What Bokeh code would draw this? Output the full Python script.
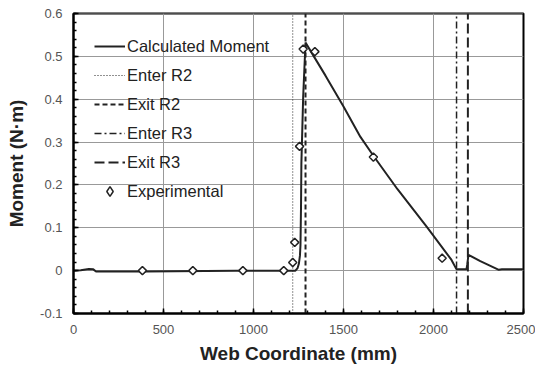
import math
from bokeh.plotting import figure
from bokeh.models import Range1d, Legend, LegendItem, FixedTicker
from bokeh.embed import file_html
from bokeh.resources import INLINE

# Calculated moment curve (web coordinate mm, moment N·m)
calc_x = [0, 40, 85, 110, 125, 400, 900, 1233, 1245, 1252, 1258, 1261, 1264, 1266, 1276, 1289,
          1400, 1500, 1594, 1668, 1800, 1965, 2100, 2128, 2183, 2188, 2194, 2260, 2363, 2380, 2500]
calc_y = [0.0, 0.001, 0.004, 0.003, -0.002, -0.002, 0.0, 0.0, 0.006, 0.016, 0.035, 0.06, 0.15, 0.25, 0.406, 0.532,
          0.455, 0.383, 0.312, 0.267, 0.19, 0.101, 0.025, 0.003, 0.003, 0.015, 0.037, 0.022, 0.002, 0.003, 0.003]

# Experimental points
exp_x = [383, 663, 941, 1168, 1218, 1229, 1256, 1276, 1341, 1666, 2048]
exp_y = [0.0, 0.0, 0.0, 0.0, 0.019, 0.066, 0.29, 0.517, 0.511, 0.265, 0.029]

# Roller region boundaries
enter_r2 = 1218
exit_r2 = 1289
enter_r3 = 2128
exit_r3 = 2191

x_ticks = [0, 500, 1000, 1500, 2000, 2500]
y_ticks = [-0.1, 0.0, 0.1, 0.2, 0.3, 0.4, 0.5, 0.6]
y_labels = ["-0.1", "0", "0.1", "0.2", "0.3", "0.4", "0.5", "0.6"]

FONT = "Liberation Sans"
INK = "#222222"

p = figure(width=535, height=375, output_backend="svg", toolbar_location=None,
           x_range=Range1d(x_ticks[0], x_ticks[-1]), y_range=Range1d(y_ticks[0] - 1e-9, y_ticks[-1] + 1e-9),
           min_border_left=73, min_border_right=12, min_border_top=13, min_border_bottom=62)

p.outline_line_color = "black"
p.outline_line_width = 2
p.background_fill_color = "white"

x_minor = [x_ticks[0] + i * (x_ticks[1] - x_ticks[0]) / 5 for i in range(5 * (len(x_ticks) - 1) + 1)]
y_minor = [round(y_ticks[0] + i * 0.02, 4) for i in range(5 * (len(y_ticks) - 1) + 1)]
p.xaxis.ticker = FixedTicker(ticks=x_ticks, minor_ticks=x_minor)
p.yaxis.ticker = FixedTicker(ticks=y_ticks, minor_ticks=y_minor)
p.yaxis.major_label_overrides = {v: s for v, s in zip(y_ticks, y_labels)}

for ax in (p.xaxis, p.yaxis):
    ax.axis_line_color = "black"
    ax.axis_line_width = 2
    ax.major_tick_in = 5
    ax.major_tick_out = 0
    ax.minor_tick_in = 3
    ax.minor_tick_out = 0
    ax.major_tick_line_color = "black"
    ax.minor_tick_line_color = "black"
    ax.major_tick_line_width = 1.5
    ax.minor_tick_line_width = 1.5
    ax.major_label_text_font = FONT
    ax.major_label_text_font_size = "13px"
    ax.major_label_text_color = "#555555"
    ax.major_label_standoff = 11
    ax.axis_label_text_font = FONT
    ax.axis_label_text_font_size = "19px"
    ax.axis_label_text_font_style = "bold"
    ax.axis_label_text_color = INK

p.xaxis.axis_label = "Web Coordinate (mm)"
p.yaxis.axis_label = "Moment (N·m)"
p.xaxis.axis_label_standoff = 6
p.yaxis.axis_label_standoff = 10

p.xgrid.grid_line_color = "#999999"
p.ygrid.grid_line_color = "#999999"
p.xgrid.grid_line_width = 1
p.ygrid.grid_line_width = 1

yb = [y_ticks[0], y_ticks[-1]]
r_calc = p.line(calc_x, calc_y, line_color=INK, line_width=2)
r_e2 = p.line([enter_r2, enter_r2], yb, line_color=INK, line_width=1, line_dash="1 2")
r_x2 = p.line([exit_r2, exit_r2], yb, line_color=INK, line_width=2, line_dash="5 3")
r_e3 = p.line([enter_r3, enter_r3], yb, line_color=INK, line_width=1.5, line_dash="7 3 2 3")
r_x3 = p.line([exit_r3, exit_r3], yb, line_color=INK, line_width=2, line_dash="10 4")
r_exp = p.scatter(exp_x, exp_y, marker="square", angle=math.pi / 4, size=5.8, fill_color="white",
                  line_color=INK, line_width=1.5)
# legend-only glyph (legend ignores marker angle); NaN point so nothing is drawn in the plot
r_exp_leg = p.scatter(x=[float("nan")], y=[float("nan")], marker="diamond", fill_color="white",
                      line_color=INK, line_width=1.5)

legend = Legend(items=[
    LegendItem(label="Calculated Moment", renderers=[r_calc]),
    LegendItem(label="Enter R2", renderers=[r_e2]),
    LegendItem(label="Exit R2", renderers=[r_x2]),
    LegendItem(label="Enter R3", renderers=[r_e3]),
    LegendItem(label="Exit R3", renderers=[r_x3]),
    LegendItem(label="Experimental", renderers=[r_exp_leg]),
], location="top_left")
legend.margin = 0
legend.padding = 21
legend.spacing = 5
legend.glyph_width = 31
legend.glyph_height = 24
legend.label_height = 24
legend.label_standoff = 2
legend.label_text_font = FONT
legend.label_text_font_size = "16.5px"
legend.label_text_color = INK
legend.background_fill_alpha = 0
legend.border_line_alpha = 0
p.add_layout(legend)

open("out.html", "w").write(file_html(p, INLINE))
